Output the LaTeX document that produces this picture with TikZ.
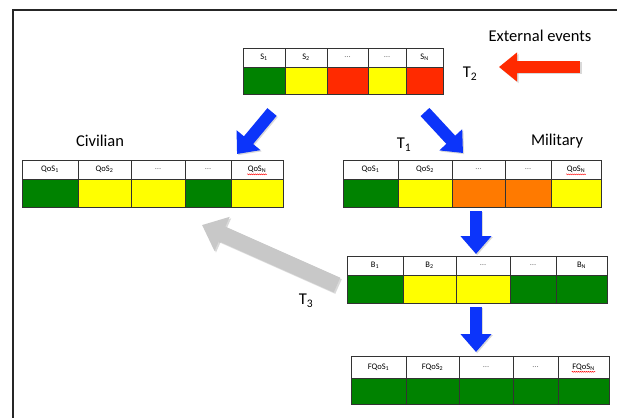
\documentclass[tikz,border=0pt]{standalone}
\usepackage{fontspec}
\setmainfont{Carlito}
\usetikzlibrary{arrows.meta,decorations.pathmorphing}

\definecolor{cgreen}{RGB}{0,130,0}
\definecolor{cyellow}{RGB}{255,255,0}
\definecolor{cred}{RGB}{255,42,0}
\definecolor{corange}{RGB}{255,122,0}
\definecolor{cblue}{RGB}{12,52,250}
\definecolor{cgray}{RGB}{200,200,200}

\tikzset{
  gridline/.style={draw=black!80, line width=0.8pt},
  headtext/.style={font=\fontsize{8.5}{9.5}\selectfont, inner sep=0.5pt},
  lbl/.style={font=\fontsize{16.5}{18}\selectfont, inner sep=0pt},
  bluearrow/.style={cblue, line width=12pt, -{Triangle[length=18pt,width=30pt]}},
  arrowshade/.style={black, opacity=0.15, line width=12pt, -{Triangle[length=18pt,width=30pt]}},
  spellmark/.style={red, line width=0.4pt, decorate,
    decoration={snake, amplitude=0.5pt, segment length=2pt}},
}

\newcommand{\grdots}{{\color{black!55}\ldots}}

% one table: top row of labels, bottom row of coloured cells
% #1 top, #2 divider, #3 bottom, #4 list xleft/xright/text/colour/name
\newcommand{\drawtable}[4]{%
  \foreach \xa/\xb/\txt/\col/\nm in {#4}{
    \fill[\col] (\xa,#2) rectangle (\xb,#3);
    \draw[gridline] (\xa,#1) rectangle (\xb,#3);
    \draw[gridline] (\xa,#2) -- (\xb,#2);
    \node[headtext] (\nm) at ({(\xa+\xb)/2},{(#1+#2)/2}) {\txt};
  }}

\begin{document}
\begin{tikzpicture}[x=1pt,y=-1pt]
\useasboundingbox (0,0) rectangle (617,417);

% outer frame
\draw[line width=1.5pt, black!85] (13,425) -- (13,10) -- (625,10);

% state table
\drawtable{48}{67}{94}{
  243/285/S\textsubscript{1}/cgreen/s1,
  285/327/S\textsubscript{2}/cyellow/s2,
  327/368/\grdots/cred/s3,
  368/406/\grdots/cyellow/s4,
  406/443/S\textsubscript{N}/cred/s5}

% civilian table
\drawtable{160}{179}{207}{
  22/78/QoS\textsubscript{1}/cgreen/c1,
  78/131/QoS\textsubscript{2}/cyellow/c2,
  131/185/\grdots/cyellow/c3,
  185/231/\grdots/cgreen/c4,
  231/283/QoS\textsubscript{N}/cyellow/c5}

% military table
\drawtable{160}{179}{207}{
  343/398/QoS\textsubscript{1}/cgreen/m1,
  398/452/QoS\textsubscript{2}/cyellow/m2,
  452/505/\grdots/corange/m3,
  505/551/\grdots/corange/m4,
  551/601/QoS\textsubscript{N}/cyellow/m5}

% B table
\drawtable{256}{275}{303}{
  347/403/B\textsubscript{1}/cgreen/b1,
  403/456/B\textsubscript{2}/cyellow/b2,
  456/510/\grdots/cyellow/b3,
  510/556/\grdots/cgreen/b4,
  556/607/B\textsubscript{N}/cgreen/b5}

% FQoS table
\drawtable{356}{378}{404}{
  351/406/FQoS\textsubscript{1}/cgreen/f1,
  406/459/FQoS\textsubscript{2}/cgreen/f2,
  459/513/\grdots/cgreen/f3,
  513/558/\grdots/cgreen/f4,
  558/609/FQoS\textsubscript{N}/cgreen/f5}

% spell-check underlines
\foreach \nm in {c5,m5,f5}
  \draw[spellmark] ([yshift=-0.8pt]\nm.south west) -- ([yshift=-0.8pt]\nm.south east);

% labels
\node[lbl] (ext) at (540,36) {External events};
\node[lbl] (t2) at (470,74) {T\textsubscript{2}};
\node[lbl] (civ) at (100,141) {Civilian};
\node[lbl] (mil) at (557,141) {Military};
\node[lbl] (t1) at (404,145) {T\textsubscript{1}};
\node[lbl] (t3) at (306,301) {T\textsubscript{3}};

% arrow end points
\coordinate (redA) at (580,67);   \coordinate (redB) at (499,67);
\coordinate (blA) at (272,112);   \coordinate (blB) at (237,154);
\coordinate (brA) at (425,112);   \coordinate (brB) at (463,153);
\coordinate (v1A) at (476,211);   \coordinate (v1B) at (476,254);
\coordinate (v2A) at (476,307);   \coordinate (v2B) at (476,352);
\coordinate (gA) at (337,285);    \coordinate (gB) at (202,225);

% external events arrow
\draw[black, opacity=0.15, line width=12pt, -{Triangle[length=18pt,width=28pt]}]
  ([shift={(1.5,1.5)}]redA) -- ([shift={(1.5,1.5)}]redB);
\draw[cred, line width=12pt, -{Triangle[length=18pt,width=28pt]}] (redA) -- (redB);

% transition arrows
\foreach \a/\b in {blA/blB, brA/brB, v1A/v1B, v2A/v2B}{
  \draw[arrowshade] ([shift={(1.2,1.2)}]\a) -- ([shift={(1.2,1.2)}]\b);
  \draw[bluearrow] (\a) -- (\b);
}

% feedback arrow
\draw[black, opacity=0.15, line width=16pt, -{Triangle[length=22pt,width=36pt]}]
  ([shift={(1.5,1.5)}]gA) -- ([shift={(1.5,1.5)}]gB);
\draw[cgray, line width=16pt, -{Triangle[length=22pt,width=36pt]}] (gA) -- (gB);
\end{tikzpicture}
\end{document}
